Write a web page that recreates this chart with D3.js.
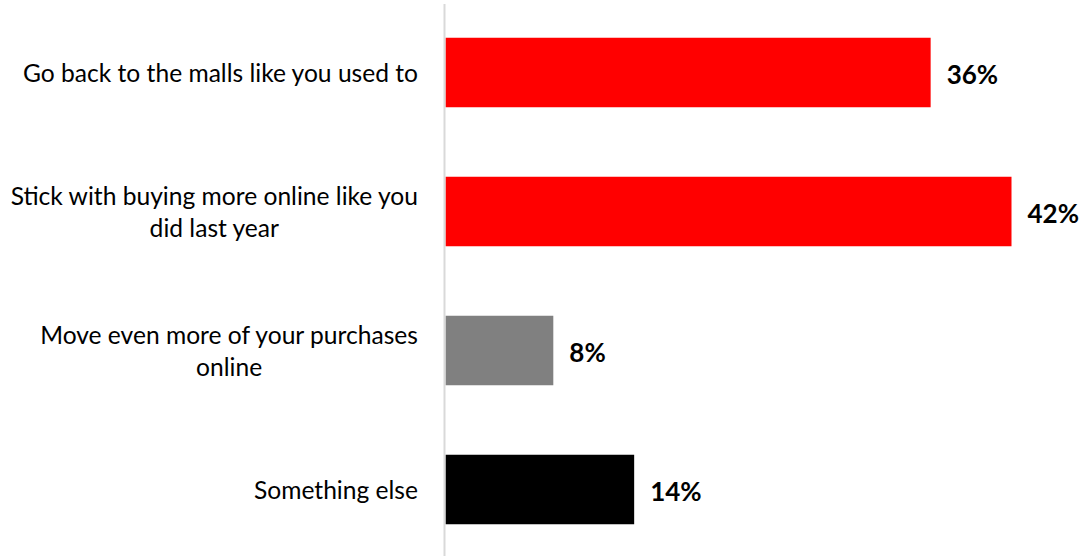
<!DOCTYPE html>
<html>
<head>
<meta charset="utf-8">
<script src="https://cdn.jsdelivr.net/npm/d3@7"></script>
<style>
  html, body { margin: 0; padding: 0; background: #fff; }
  svg { display: block; }
  text { font-family: "Lato", "Open Sans", sans-serif; fill: #000; }
</style>
</head>
<body>
<svg id="chart" width="1081" height="556"></svg>
<script>
// Survey responses: share of respondents choosing each option
const categories = [
  ["Go back to the malls like you used to"],
  ["Stick with buying more online like you", "did last year"],
  ["Move even more of your purchases", "online"],
  ["Something else"]
];
const values = [36, 42, 8, 14];
const valueLabels = ["36%", "42%", "8%", "14%"];
const colors = ["#ff0000", "#ff0000", "#808080", "#000000"];

const W = 1081, H = 556;
const svg = d3.select("#chart");

const x0 = 445.5;
const x = d3.scaleLinear().domain([0, 42]).range([x0, x0 + 566]);
const y = d3.scaleBand()
  .domain(d3.range(values.length))
  .range([3, 559])
  .paddingInner(0.5)
  .paddingOuter(0.25);

// bars
svg.selectAll("rect.bar")
  .data(values)
  .join("rect")
  .attr("class", "bar")
  .attr("x", x(0))
  .attr("y", (d, i) => y(i))
  .attr("width", d => x(d) - x(0))
  .attr("height", y.bandwidth())
  .attr("fill", (d, i) => colors[i]);

// vertical category axis line
svg.append("line")
  .attr("x1", 444.5).attr("x2", 444.5)
  .attr("y1", 4).attr("y2", H)
  .attr("stroke", "#d9d9d9")
  .attr("stroke-width", 2);

// category labels: block right-aligned, wrapped lines centred within the block
const catSize = 24.6, lineH = 32, labelRight = 418;
categories.forEach((lines, i) => {
  const cy = y(i) + y.bandwidth() / 2;
  const g = svg.append("g");
  const texts = lines.map((ln, j) => g.append("text")
    .attr("font-size", catSize)
    .attr("dominant-baseline", "central")
    .attr("y", cy + (j - (lines.length - 1) / 2) * lineH)
    .text(ln));
  const widths = texts.map(t => t.node().getComputedTextLength());
  const blockW = d3.max(widths);
  const centre = labelRight - blockW / 2;
  texts.forEach(t => t.attr("x", centre).attr("text-anchor", "middle"));
});

// value labels
svg.selectAll("text.val")
  .data(values)
  .join("text")
  .attr("class", "val")
  .attr("x", d => x(d) + 16)
  .attr("y", (d, i) => y(i) + y.bandwidth() / 2 + 1)
  .attr("dominant-baseline", "central")
  .attr("font-size", 26)
  .attr("font-weight", "bold")
  .text((d, i) => valueLabels[i]);
</script>
</body>
</html>
